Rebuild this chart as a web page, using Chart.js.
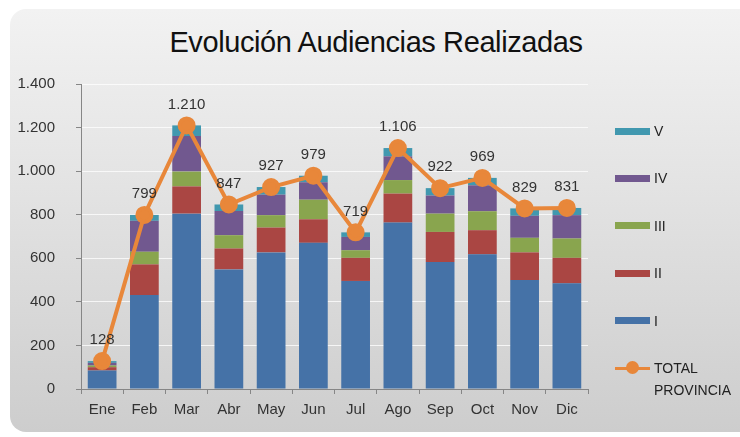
<!DOCTYPE html>
<html>
<head>
<meta charset="utf-8">
<script src="https://cdn.jsdelivr.net/npm/chart.js@4/dist/chart.umd.min.js"></script>
<style>
  body { margin: 0; background: #fff; }
  #wrap { position: relative; width: 740px; height: 437px; overflow: hidden; }
  #panel {
    position: absolute; left: 10px; top: 9px; width: 760px; height: 423px;
    border-radius: 16px;
    background: linear-gradient(#f2f2f2, #e2e2e2 45%, #cdcdcd);
  }
  #title {
    position: absolute; left: 6px; width: 740px; top: 26px; text-align: center;
    font-family: "Liberation Sans", Arial, sans-serif; font-size: 29px; color: #111;
    letter-spacing: -0.4px;
  }
  canvas { position: absolute; left: 0; top: 0; }
  .leg { position: absolute; left: 615px; font-family: "Liberation Sans", Arial, sans-serif;
    font-size: 14px; color: #222; }
  .leg .sw { position: absolute; left: 0; width: 35px; height: 7px; }
  .leg .tx { position: absolute; left: 39px; width: 90px; line-height: 22px; }
</style>
</head>
<body>
<div id="wrap">
  <div id="panel"></div>
  <div id="title">Evolución Audiencias Realizadas</div>
  <canvas id="audChart" width="740" height="437"></canvas>
  <div id="legend"></div>
</div>
<script>
const months = ["Ene", "Feb", "Mar", "Abr", "May", "Jun", "Jul", "Ago", "Sep", "Oct", "Nov", "Dic"];
const serieI = [85, 431, 805, 549, 627, 671, 496, 764, 583, 618, 500, 485];
const serieII = [15, 141, 125, 96, 114, 108, 106, 133, 138, 111, 127, 117];
const serieIII = [8, 58, 68, 61, 57, 90, 35, 62, 84, 87, 67, 89];
const serieIV = [12, 142, 163, 111, 94, 80, 61, 109, 83, 119, 101, 107];
const serieV = [8, 27, 49, 30, 35, 30, 21, 38, 34, 34, 34, 33];
const totalProvincia = [128, 799, 1210, 847, 927, 979, 719, 1106, 922, 969, 829, 831];
const yTicks = [0, 200, 400, 600, 800, 1000, 1200, 1400];

function fmt(v) {
  return String(v).replace(/\B(?=(\d{3})+(?!\d))/g, ".");
}

const font = "'Liberation Sans', Arial, sans-serif";

// labels above the total line
const totalLabels = {
  id: "totalLabels",
  afterDatasetsDraw(chart) {
    const ctx = chart.ctx;
    const meta = chart.getDatasetMeta(5);
    ctx.save();
    ctx.font = "15px " + font;
    ctx.fillStyle = "#333";
    ctx.textAlign = "center";
    ctx.textBaseline = "middle";
    meta.data.forEach(function (pt, i) {
      ctx.fillText(fmt(totalProvincia[i]), pt.x, pt.y - 21);
    });
    ctx.restore();
  },
};

function bar(label, data, color) {
  return { type: "bar", label: label, data: data, backgroundColor: color, stack: "s", order: 1,
    barPercentage: 0.68, categoryPercentage: 1, borderWidth: 0 };
}

const ctx = document.getElementById("audChart").getContext("2d");
const chart = new Chart(ctx, {
  data: {
    labels: months,
    datasets: [
      bar("I", serieI, "#4572A7"),
      bar("II", serieII, "#AA4643"),
      bar("III", serieIII, "#89A54E"),
      bar("IV", serieIV, "#71588F"),
      bar("V", serieV, "#4198AF"),
      {
        type: "line",
        label: "TOTAL PROVINCIA",
        data: totalProvincia,
        stack: "line",
        order: 0,
        borderColor: "#E8873A",
        backgroundColor: "#E8873A",
        borderWidth: 4,
        pointRadius: 7,
        pointHoverRadius: 7,
        tension: 0,
      },
    ],
  },
  options: {
    responsive: false,
    animation: false,
    layout: { padding: { top: 84, right: 152, bottom: 8, left: 0 } },
    plugins: { legend: { display: false }, tooltip: { enabled: false }, title: { display: false } },
    scales: {
      x: {
        stacked: true,
        afterFit: function (s) { s.height = 40; },
        grid: { drawOnChartArea: false, drawTicks: true, tickLength: 5, color: "#868686" },
        border: { color: "#868686" },
        ticks: { padding: 7, color: "#333", font: { family: font, size: 15 } },
      },
      y: {
        stacked: true,
        min: 0,
        max: 1400,
        afterFit: function (s) { s.width = 81; },
        afterBuildTicks: function (s) { s.ticks = yTicks.map(function (v) { return { value: v }; }); },
        grid: { color: "rgba(255,255,255,0.75)", tickColor: "#868686", tickLength: 5 },
        border: { color: "#868686" },
        ticks: { padding: 21, color: "#333", font: { family: font, size: 15 },
          callback: function (v) { return fmt(v); } },
      },
    },
  },
  plugins: [totalLabels],
});

// legend built from the datasets, in reverse order like the original
const legend = document.getElementById("legend");
const order = [4, 3, 2, 1, 0, 5];
order.forEach(function (di, i) {
  const ds = chart.data.datasets[di];
  const item = document.createElement("div");
  item.className = "leg";
  item.style.top = (131 + i * 47.4) + "px";
  const sw = document.createElement("div");
  sw.className = "sw";
  if (ds.type === "line") {
    sw.style.height = "3px";
    sw.style.top = "-1.5px";
    sw.style.background = ds.borderColor;
    const dot = document.createElement("div");
    dot.style.cssText = "position:absolute;left:11px;top:-5.5px;width:13px;height:13px;border-radius:50%;background:" + ds.borderColor;
    sw.appendChild(dot);
  } else {
    sw.style.top = "-3.5px";
    sw.style.background = ds.backgroundColor;
  }
  const tx = document.createElement("div");
  tx.className = "tx";
  tx.style.top = "-11px";
  tx.textContent = ds.label;
  item.appendChild(sw);
  item.appendChild(tx);
  legend.appendChild(item);
});
</script>
</body>
</html>
